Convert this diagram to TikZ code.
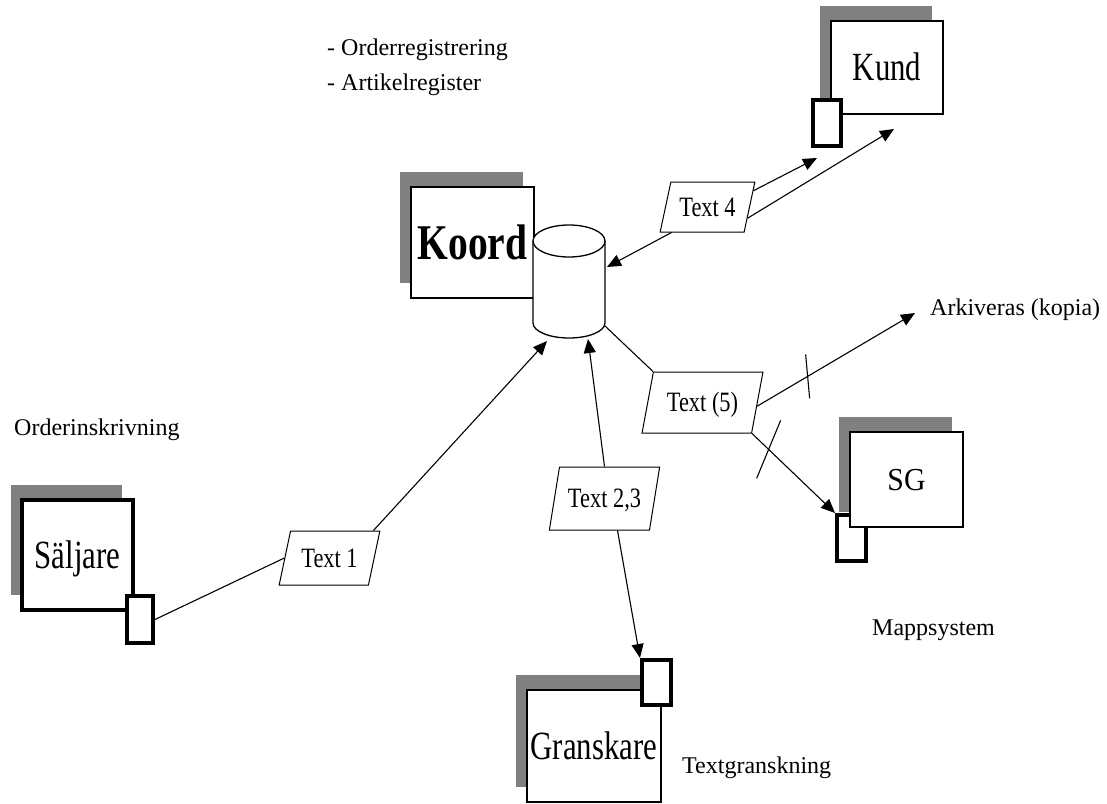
\documentclass[tikz,border=0pt]{standalone}
\usepackage{fontspec}
\usepackage{graphicx}
\setmainfont{Liberation Serif}
\usetikzlibrary{shapes.geometric,shadows,arrows.meta,calc}
\definecolor{shadowgray}{RGB}{128,128,128}
\newcommand{\narrow}[2][0.77]{\scalebox{#1}[1]{#2}}
\tikzset{
  actor/.style={draw, fill=white, line width=1.3pt, inner sep=0pt,
    general shadow={fill=shadowgray, shadow xshift=-11pt, shadow yshift=15pt},
    font=\fontsize{40}{40}\selectfont, text height=26.5pt, text depth=0pt},
  port/.style={draw, fill=white, line width=4pt, inner sep=0pt},
  doc/.style={trapezium, trapezium left angle=66, trapezium right angle=114,
    trapezium stretches=true, draw, fill=white, line width=1pt, inner sep=0pt,
    font=\fontsize{28}{28}\selectfont, text height=18.5pt, text depth=0pt},
  cylline/.style={line width=1.3pt},
  link/.style={line width=1.1pt},
  flow/.style={line width=1.1pt, -{Triangle[length=14pt,width=12pt]}},
  note/.style={font=\fontsize{24}{24}\selectfont, inner sep=0pt, anchor=base west},
}
\begin{document}
\begin{tikzpicture}[x=1pt,y=-1pt]
\useasboundingbox (0,0) rectangle (1107,803);

% --- actors with their ports ---
\node[actor, minimum width=112pt, minimum height=93pt] (kund) at (887,67.5) {\narrow{Kund}};
\node[port, minimum width=28pt, minimum height=46pt] (kundp) at (827,123) {};

\node[actor, minimum width=123pt, minimum height=111pt,
      font=\fontsize{50}{50}\selectfont\bfseries, text height=33pt] (koord) at (472.5,242.5) {\narrow[0.79]{Koord}};

\node[port, minimum width=29pt, minimum height=46pt] (sgp) at (851.5,538) {};
\node[actor, minimum width=113pt, minimum height=95pt,
      font=\fontsize{32}{32}\selectfont, text height=21pt] (sg) at (906.5,479.5) {\narrow[0.93]{SG}};

\node[actor, line width=4pt, minimum width=111pt, minimum height=110pt] (saljare) at (77.5,555) {\narrow{Säljare}};
\node[port, minimum width=26pt, minimum height=47pt] (saljarep) at (140,619.5) {};

\node[actor, minimum width=134pt, minimum height=112pt] (gransk) at (594,746) {\narrow{Granskare}};
\node[port, minimum width=29pt, minimum height=45pt] (granskp) at (656.5,682.5) {};

% --- database cylinder ---
\node[minimum width=72pt, minimum height=113pt, inner sep=0pt] (db) at (569,282) {};
\draw[cylline, fill=white] (533,241) -- (533,323)
  arc[start angle=180, end angle=0, x radius=36, y radius=15] -- (605,241);
\draw[cylline, fill=white] (569,241) ellipse [x radius=36, y radius=16];
\coordinate (db-t1) at (547,341);
\coordinate (db-t23) at (588,339);
\coordinate (db-t4) at (607,267);
\coordinate (db-t5) at (605,326);

% --- documents ---
\node[doc, minimum width=95pt, minimum height=50pt] (t4) at (707.5,207) {\narrow[0.8]{Text 4}};
\node[doc, minimum width=101pt, minimum height=54pt] (t1) at (329.5,558) {\narrow[0.8]{Text 1}};
\node[doc, minimum width=111pt, minimum height=63pt] (t23) at (604.5,498.5) {\narrow[0.8]{Text 2,3}};
\node[doc, minimum width=121pt, minimum height=61pt] (t5) at (702.5,402.5) {\narrow[0.8]{Text (5)}};

% --- free arrow ends ---
\coordinate (kund-in1) at (817,158);
\coordinate (kund-in2) at (894,129);
\coordinate (ark-in) at (915,313);

% --- flows ---
\draw[link] (saljarep.east) -- (t1.west);
\draw[flow] ($(t1.top right corner)+(-7,0)$) -- (db-t1);
\draw[flow] (t23.north) -- (db-t23);
\draw[flow] ($(t23.south)+(13,0)$) -- (granskp.north west);
\draw[flow] ($(t4.bottom left corner)+(12,0)$) -- (db-t4);
\draw[flow] ($(t4.top right corner)!0.18!(t4.bottom right corner)$) -- (kund-in1);
\draw[flow] ($(t4.top right corner)!0.72!(t4.bottom right corner)$) -- (kund-in2);
\draw[link] (db-t5) -- (t5.top left corner);
\draw[flow] ($(t5.top right corner)!0.56!(t5.bottom right corner)$) -- coordinate[pos=0.32] (cut1) (ark-in);
\draw[flow] (t5.bottom right corner) -- coordinate[pos=0.2] (cut2) (sgp.north west);
\draw[link] ($(cut1)+(-2,-22)$) -- ($(cut1)+(2,22)$);
\draw[link] ($(cut2)+(12,-29)$) -- ($(cut2)+(-12,29)$);

% --- annotations ---
\node[note] (reg1) at (327,55) {- Orderregistrering};
\node[note] (reg2) at (327,90) {- Artikelregister};
\node[note] (ark) at (930,315) {Arkiveras (kopia)};
\node[note] (orderin) at (14,435) {Orderinskrivning};
\node[note] (mapp) at (872,635) {Mappsystem};
\node[note] (textgr) at (682,773) {Textgranskning};
\end{tikzpicture}
\end{document}
